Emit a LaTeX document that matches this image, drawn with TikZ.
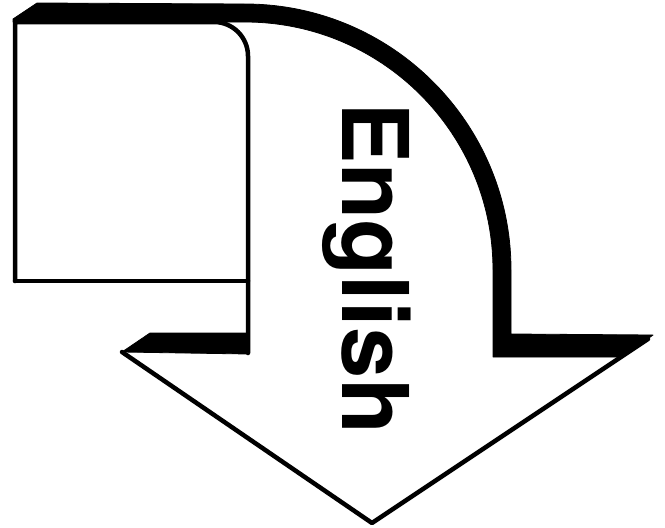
\documentclass[tikz,border=0pt]{standalone}
\usepackage{fontspec}
\setmainfont{TeX Gyre Heros}
\begin{document}
\begin{tikzpicture}[x=1pt,y=-1pt,
  outline/.style={draw=black,line width=4.5pt,line join=round,line cap=round},
  depth/.style={fill=black,draw=black,line width=0.8pt,line join=round}]
\useasboundingbox (0,0) rectangle (665,528);
% depth band along the top and right of the bent shaft, with the right barb
\path[depth] (13,19) -- (37,3) -- (245,4) arc[start angle=-90,end angle=0,radius=266]
  -- (511,334) -- (653,335) -- (623,357) -- (493,357) -- (493,270)
  arc[start angle=0,end angle=-90,radius=248] -- (13,22) -- cycle;
% depth of the left barb
\path[depth] (150,333) -- (248,333) -- (248,354) -- (122,352) -- cycle;
% arrow head outline
\draw[outline] (122,352) -- (372,523) -- (648,339);
% front panel
\draw[outline] (15,281) -- (15,22) -- (214,22) arc[start angle=-90,end angle=0,radius=34]
  -- (248,353);
\draw[outline] (15,281) -- (248,281);
% label
\node[rotate=-90,anchor=base west,inner sep=0pt,font=\fontsize{92}{92}\selectfont\bfseries]
  (label) at (342,102) {English};
\end{tikzpicture}
\end{document}
